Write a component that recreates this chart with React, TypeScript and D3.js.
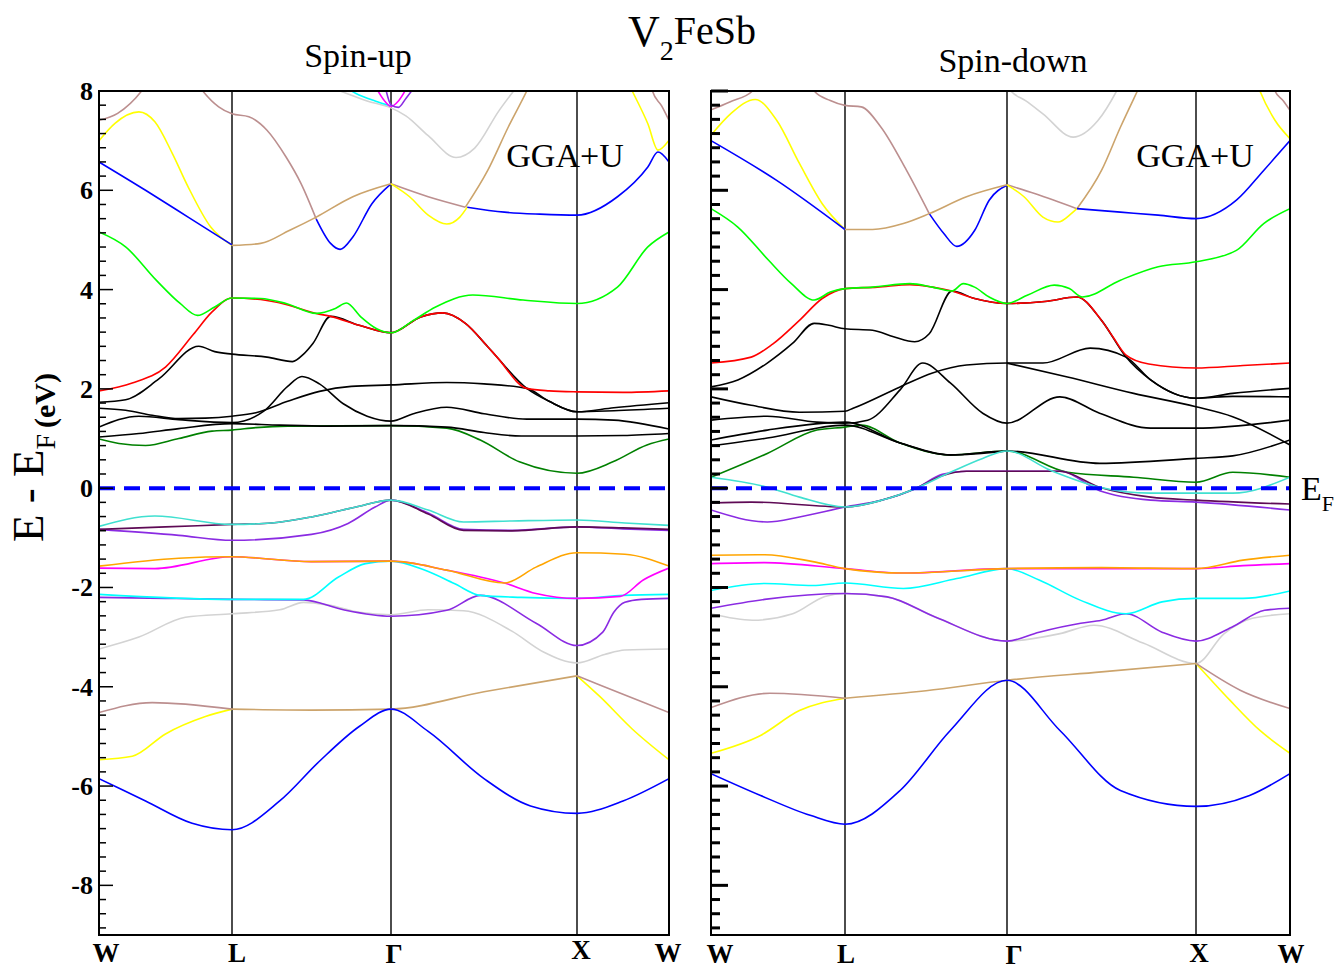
import React from "react";
import * as d3 from "d3";

// k-path positions (segment units) and labels
const kTicks = [0, 1, 2, 3, 4];
const kLabels = ["W", "L", "Γ", "X", "W"];
const eMajor = [8, 6, 4, 2, 0, -2, -4, -6, -8];

const colors: Record<string, string> = {
  brown: "#BC8F8F",
  yellow: "#FFFF00",
  blue: "#0000FF",
  lime: "#00FF00",
  red: "#FF0000",
  black: "#000000",
  green: "#008000",
  tan: "#CCA46C",
  gray: "#D3D3D3",
  turq: "#40E0D0",
  cyan: "#00FFFF",
  magenta: "#FF00FF",
  orange: "#FFA500",
  plum: "#5E0A55",
  violet: "#8A2BE2",
};

type Band = { s: string; p: number[][] };

// spin-up bands: [k, E]
const upBands: Band[] = [
  { s: "gray", p: [[1.6, 8.1], [1.68, 8.0], [1.85, 7.8], [2, 7.66], [2.08, 7.5], [2.2, 7.1], [2.35, 6.66], [2.45, 6.85], [2.58, 7.6], [2.68, 8.1]] },
  { s: "cyan", p: [[1.7, 8.1], [1.78, 7.95], [1.9, 7.8], [2, 7.7]] },
  { s: "magenta", p: [[1.9, 8.1], [1.96, 7.8], [2, 7.69], [2.04, 7.8], [2.09, 8.1]] },
  { s: "violet", p: [[1.97, 8.0], [2.0, 7.72], [2.04, 7.67], [2.08, 7.85], [2.13, 8.1]] },
  { s: "brown", p: [[0, 7.41], [0.14, 7.55], [0.32, 8.0], [0.42, 8.4]] },
  { s: "yellow", p: [[0, 7.0], [0.12, 7.35], [0.3, 7.58], [0.42, 7.38], [0.55, 6.75], [0.67, 6.07], [0.84, 5.26], [1, 4.89]] },
  { s: "blue", p: [[0, 6.57], [0.35, 6.0], [0.67, 5.46], [1, 4.9]] },
  { s: "brown", p: [[0.7, 8.3], [0.78, 8.0], [0.9, 7.68], [1, 7.54], [1.106, 7.48], [1.22, 7.21], [1.34, 6.67], [1.435, 6.13], [1.53, 5.42]] },
  { s: "blue", p: [[1.53, 5.42], [1.62, 4.93], [1.68, 4.81], [1.76, 5.06], [1.88, 5.73], [2, 6.13]] },
  { s: "tan", p: [[1, 4.89], [1.18, 4.93], [1.36, 5.19], [1.53, 5.46], [1.76, 5.87], [2, 6.13]] },
  { s: "brown", p: [[2, 6.13], [2.2, 5.87], [2.4, 5.66]] },
  { s: "tan", p: [[2.4, 5.66], [2.52, 6.4], [2.63, 7.27], [2.73, 8.0], [2.78, 8.4]] },
  { s: "yellow", p: [[2, 6.13], [2.1, 5.87], [2.2, 5.5], [2.3, 5.32], [2.37, 5.46], [2.41, 5.66]] },
  { s: "blue", p: [[2.41, 5.66], [2.61, 5.56], [2.8, 5.52], [3, 5.5], [3.44, 5.87], [3.77, 6.47], [3.88, 6.77], [4, 6.57]] },
  { s: "yellow", p: [[3.52, 8.3], [3.6, 8.0], [3.77, 7.34], [3.88, 6.81], [4, 7.01]] },
  { s: "brown", p: [[3.78, 8.3], [3.82, 8.0], [3.92, 7.7], [4, 7.41]] },
  { s: "green", p: [[0, 0.99], [0.15, 0.9], [0.35, 0.86], [0.6, 1.0], [0.85, 1.15], [1, 1.17], [1.15, 1.22], [1.35, 1.25], [2, 1.26], [2.3, 1.21], [2.48, 0.97], [2.69, 0.53], [3, 0.3], [3.39, 0.53], [3.76, 0.87], [4, 0.99]] },
  { s: "black", p: [[0, 1.73], [0.2, 1.78], [0.45, 2.2], [0.75, 2.86], [0.87, 2.75], [1, 2.7], [1.22, 2.64], [1.38, 2.55], [1.45, 2.7], [1.51, 2.92], [1.62, 3.46], [1.8, 3.28], [2, 3.13], [2.16, 3.45], [2.28, 3.53], [2.4, 3.32], [2.52, 2.85], [2.73, 2.01], [2.85, 1.75], [3, 1.54], [3.4, 1.56], [4, 1.61]] },
  { s: "black", p: [[0, 1.61], [0.2, 1.57], [0.4, 1.47], [0.6, 1.4], [0.8, 1.41], [1, 1.45], [1.15, 1.52], [1.35, 1.75], [1.55, 1.95], [1.75, 2.05], [2, 2.08], [2.3, 2.13], [2.5, 2.1], [2.73, 2.01], [2.85, 1.75], [3, 1.54], [3.4, 1.62], [4, 1.72]] },
  { s: "black", p: [[0, 1.23], [0.3, 1.45], [0.6, 1.38], [1, 1.32], [1.2, 1.55], [1.35, 2.05], [1.44, 2.25], [1.55, 2.1], [1.7, 1.7], [1.85, 1.45], [2, 1.35], [2.12, 1.5], [2.3, 1.63], [2.5, 1.5], [2.73, 1.39], [3, 1.39], [3.4, 1.37], [4, 1.19]] },
  { s: "black", p: [[0, 1.03], [0.3, 1.1], [0.6, 1.2], [1, 1.3], [1.3, 1.27], [1.6, 1.25], [2, 1.26], [2.3, 1.23], [2.5, 1.12], [2.7, 1.05], [3, 1.05], [3.5, 1.06], [4, 1.1]] },
  { s: "red", p: [[0, 1.96], [0.25, 2.12], [0.5, 2.44], [0.71, 3.1], [0.85, 3.55], [1, 3.83], [1.18, 3.8], [1.34, 3.7], [1.53, 3.52], [1.62, 3.46], [1.8, 3.28], [2, 3.13], [2.16, 3.45], [2.28, 3.53], [2.4, 3.32], [2.52, 2.85], [2.57, 2.64], [2.73, 2.01], [2.85, 1.96], [3, 1.94], [3.5, 1.93], [4, 1.96]] },
  { s: "lime", p: [[0, 5.16], [0.2, 4.86], [0.43, 4.19], [0.61, 3.72], [0.74, 3.48], [0.87, 3.65], [1, 3.83], [1.18, 3.82], [1.34, 3.72], [1.53, 3.52], [1.65, 3.62], [1.72, 3.73], [1.81, 3.45], [1.91, 3.21], [2, 3.13], [2.12, 3.38], [2.24, 3.65], [2.44, 3.89], [2.71, 3.79], [3, 3.72], [3.44, 4.05], [3.77, 4.86], [4, 5.16]] },
  { s: "violet", p: [[0, -0.83], [0.6, -0.95], [1, -1.05], [1.5, -0.93], [1.73, -0.71], [1.9, -0.38], [2, -0.24], [2.2, -0.5], [2.39, -0.83], [2.65, -0.85], [3, -0.78], [3.5, -0.82], [4, -0.85]] },
  { s: "plum", p: [[0, -0.83], [0.5, -0.78], [1, -0.73], [1.25, -0.7], [1.5, -0.58], [1.78, -0.38], [2, -0.24], [2.2, -0.52], [2.39, -0.85], [2.65, -0.86], [3, -0.78], [3.5, -0.8], [4, -0.83]] },
  { s: "turq", p: [[0, -0.77], [0.42, -0.56], [1, -0.73], [1.25, -0.7], [1.5, -0.58], [1.78, -0.38], [2, -0.24], [2.2, -0.44], [2.39, -0.68], [2.65, -0.66], [3, -0.64], [3.52, -0.7], [4, -0.75]] },
  { s: "gray", p: [[0, -3.24], [0.3, -3.0], [0.65, -2.6], [1, -2.53], [1.3, -2.45], [1.45, -2.3], [1.6, -2.35], [1.8, -2.5], [2, -2.55], [2.2, -2.45], [2.39, -2.47], [2.65, -2.88], [2.82, -3.3], [3, -3.52], [3.3, -3.35], [3.52, -3.26], [4, -3.24]] },
  { s: "violet", p: [[0, -2.2], [0.5, -2.22], [1, -2.24], [1.45, -2.25], [1.7, -2.45], [2, -2.58], [2.3, -2.46], [2.48, -2.16], [2.78, -2.72], [3, -3.17], [3.28, -2.9], [3.4, -2.5], [3.52, -2.3], [3.7, -2.24], [4, -2.22]] },
  { s: "cyan", p: [[0, -2.14], [1, -2.24], [1.45, -2.24], [1.67, -1.79], [1.84, -1.52], [2, -1.47], [2.18, -1.65], [2.34, -1.92], [2.48, -2.16], [2.7, -2.2], [3, -2.22], [3.5, -2.16], [4, -2.14]] },
  { s: "magenta", p: [[0, -1.61], [0.42, -1.62], [1, -1.38], [1.5, -1.48], [2, -1.47], [2.3, -1.65], [2.61, -1.91], [2.78, -2.12], [3, -2.22], [3.47, -2.18], [3.72, -1.85], [4, -1.61]] },
  { s: "orange", p: [[0, -1.57], [0.6, -1.41], [1, -1.38], [1.5, -1.48], [2, -1.47], [2.3, -1.65], [2.61, -1.91], [2.78, -1.59], [3, -1.3], [3.52, -1.33], [4, -1.57]] },
  { s: "yellow", p: [[0, -5.47], [0.25, -5.4], [0.5, -4.95], [0.8, -4.6], [1, -4.45]] },
  { s: "brown", p: [[0, -4.52], [0.4, -4.32], [1, -4.45]] },
  { s: "tan", p: [[1, -4.45], [1.5, -4.47], [2, -4.45], [2.5, -4.1], [3, -3.78]] },
  { s: "yellow", p: [[3, -3.78], [3.25, -4.2], [3.6, -4.85], [4, -5.47]] },
  { s: "brown", p: [[3, -3.78], [3.5, -4.15], [4, -4.52]] },
  { s: "blue", p: [[0, -5.85], [0.35, -6.3], [0.7, -6.75], [1, -6.88], [1.3, -6.3], [1.55, -5.5], [1.8, -4.8], [2, -4.45], [2.2, -4.9], [2.5, -5.85], [2.75, -6.4], [3, -6.55], [3.5, -6.3], [4, -5.85]] },
];

// spin-down bands: [k, E]
const downBands: Band[] = [
  { s: "gray", p: [[1.96, 8.3], [2.02, 8.0], [2.1, 7.8], [2.19, 7.54], [2.35, 7.07], [2.48, 7.4], [2.58, 8.0], [2.62, 8.3]] },
  { s: "brown", p: [[0, 7.62], [0.14, 7.78], [0.31, 8.0], [0.4, 8.3]] },
  { s: "yellow", p: [[0, 7.11], [0.15, 7.55], [0.33, 7.83], [0.49, 7.41], [0.66, 6.54], [0.83, 5.73], [1, 5.21]] },
  { s: "blue", p: [[0, 7.0], [0.49, 6.2], [1, 5.21]] },
  { s: "brown", p: [[0.7, 8.3], [0.77, 8.0], [0.89, 7.81], [1, 7.71], [1.1, 7.68], [1.22, 7.28], [1.38, 6.4], [1.52, 5.53]] },
  { s: "blue", p: [[1.52, 5.53], [1.61, 5.13], [1.69, 4.87], [1.8, 5.19], [1.89, 5.8], [2, 6.1]] },
  { s: "tan", p: [[1, 5.21], [1.17, 5.21], [1.36, 5.33], [1.52, 5.53], [1.75, 5.87], [2, 6.11]] },
  { s: "brown", p: [[2, 6.11], [2.15, 5.93], [2.37, 5.63]] },
  { s: "tan", p: [[2.37, 5.63], [2.5, 6.4], [2.6, 7.27], [2.69, 8.0], [2.74, 8.4]] },
  { s: "yellow", p: [[2, 6.11], [2.09, 5.87], [2.19, 5.46], [2.27, 5.36], [2.34, 5.53], [2.37, 5.63]] },
  { s: "blue", p: [[2.37, 5.63], [2.6, 5.56], [2.8, 5.5], [3, 5.43], [3.43, 5.8], [3.72, 6.4], [4, 7.0]] },
  { s: "yellow", p: [[3.62, 8.3], [3.68, 8.0], [3.84, 7.41], [4, 7.04]] },
  { s: "brown", p: [[3.8, 8.3], [3.84, 8.0], [3.93, 7.8], [4, 7.61]] },
  { s: "green", p: [[0, 0.22], [0.42, 0.7], [0.79, 1.17], [1, 1.23], [1.1, 1.27], [1.34, 0.91], [1.65, 0.67], [2, 0.75], [2.32, 0.32], [2.67, 0.22], [3, 0.12], [3.39, 0.32], [4, 0.22]] },
  { s: "black", p: [[0, 2.04], [0.2, 2.18], [0.42, 2.52], [0.61, 2.92], [0.77, 3.32], [0.88, 3.28], [1, 3.21], [1.17, 3.18], [1.3, 3.05], [1.43, 2.95], [1.52, 3.11], [1.66, 3.97], [1.8, 3.82], [2, 3.72], [2.2, 3.76], [2.37, 3.85], [2.5, 3.38], [2.63, 2.64], [2.76, 2.18], [3, 1.81], [3.39, 1.85], [4, 1.84]] },
  { s: "black", p: [[0, 1.84], [0.3, 1.67], [0.66, 1.53], [1, 1.55], [1.05, 1.61], [1.34, 2.04], [1.54, 2.32], [1.75, 2.48], [2, 2.52], [2.19, 2.52], [2.44, 2.82], [2.63, 2.64], [2.76, 2.18], [3, 1.81], [3.39, 1.91], [4, 2.01]] },
  { s: "black", p: [[2, 2.52], [2.32, 2.24], [2.67, 1.91], [3, 1.64], [3.39, 1.44], [4, 0.87]] },
  { s: "black", p: [[0, 1.37], [0.42, 1.45], [0.79, 1.33], [1, 1.31], [1.14, 1.37], [1.34, 1.98], [1.48, 2.52], [1.65, 2.12], [1.85, 1.51], [2, 1.31], [2.28, 1.84], [2.49, 1.51], [2.76, 1.21], [3, 1.21], [4, 1.37]] },
  { s: "black", p: [[0, 0.97], [0.42, 1.17], [1, 1.33], [1.34, 0.91], [1.65, 0.67], [2, 0.75], [2.49, 0.5], [3, 0.6], [3.39, 0.65], [4, 0.97]] },
  { s: "black", p: [[0, 0.85], [0.42, 1.01], [1, 1.27], [1.34, 0.91], [1.65, 0.67], [2, 0.75]] },
  { s: "red", p: [[0, 2.52], [0.3, 2.64], [0.46, 2.9], [0.66, 3.38], [0.83, 3.82], [1, 4.02], [1.2, 4.05], [1.4, 4.1], [1.54, 4.05], [1.66, 3.97], [1.8, 3.82], [2, 3.72], [2.2, 3.76], [2.37, 3.85], [2.5, 3.38], [2.56, 3.05], [2.63, 2.68], [2.75, 2.5], [3, 2.42], [3.5, 2.47], [4, 2.52]] },
  { s: "lime", p: [[0, 5.63], [0.2, 5.26], [0.43, 4.59], [0.6, 4.12], [0.77, 3.79], [0.89, 3.95], [1, 4.02], [1.17, 4.05], [1.4, 4.12], [1.54, 4.05], [1.66, 3.97], [1.73, 4.12], [1.8, 4.05], [1.89, 3.85], [2, 3.72], [2.11, 3.89], [2.25, 4.09], [2.33, 4.02], [2.4, 3.85], [2.6, 4.19], [2.8, 4.46], [3, 4.56], [3.43, 4.79], [3.72, 5.33], [4, 5.63]] },
  { s: "violet", p: [[0, -0.44], [0.42, -0.68], [0.66, -0.58], [1, -0.38], [1.23, -0.24], [1.44, 0.0], [1.6, 0.28], [1.75, 0.34], [2, 0.34], [2.28, 0.34], [2.49, -0.05], [2.76, -0.24], [3, -0.28], [4, -0.44]] },
  { s: "plum", p: [[0, -0.3], [0.3, -0.28], [1, -0.38], [1.23, -0.24], [1.44, 0.0], [1.6, 0.25], [1.75, 0.34], [2, 0.34], [2.28, 0.34], [2.49, 0.02], [2.76, -0.18], [3, -0.24], [4, -0.32]] },
  { s: "turq", p: [[0, 0.22], [0.42, 0.02], [0.66, -0.18], [1, -0.38], [1.23, -0.24], [1.44, 0.0], [1.65, 0.32], [1.85, 0.6], [2, 0.75], [2.23, 0.36], [2.49, 0.02], [2.76, -0.1], [3, -0.1], [3.39, -0.1], [4, 0.22]] },
  { s: "gray", p: [[0, -2.53], [0.31, -2.66], [0.61, -2.53], [0.85, -2.18], [1, -2.12], [1.26, -2.19], [1.56, -2.6], [2, -3.08], [2.28, -2.93], [2.46, -2.76], [2.72, -3.12], [3, -3.53], [3.3, -2.93], [3.6, -2.62], [4, -2.53]] },
  { s: "violet", p: [[0, -2.42], [0.4, -2.24], [1, -2.12], [1.26, -2.19], [1.56, -2.6], [2, -3.08], [2.17, -2.9], [2.39, -2.72], [2.5, -2.66], [2.63, -2.53], [2.82, -2.9], [3, -3.08], [3.38, -2.8], [3.73, -2.46], [4, -2.42]] },
  { s: "cyan", p: [[0, -2.06], [0.4, -1.92], [0.76, -1.96], [1, -1.91], [1.36, -2.02], [1.69, -1.82], [2, -1.62], [2.17, -1.85], [2.39, -2.26], [2.63, -2.53], [2.82, -2.29], [3, -2.22], [3.5, -2.22], [4, -2.07]] },
  { s: "magenta", p: [[0, -1.52], [0.4, -1.5], [1, -1.62], [1.36, -1.71], [2, -1.62], [3, -1.62], [3.5, -1.56], [4, -1.52]] },
  { s: "orange", p: [[0, -1.35], [0.4, -1.34], [0.76, -1.48], [1, -1.62], [1.36, -1.71], [2, -1.62], [2.5, -1.6], [3, -1.62], [3.5, -1.45], [4, -1.35]] },
  { s: "yellow", p: [[0, -5.34], [0.37, -4.98], [0.66, -4.48], [1, -4.23]] },
  { s: "brown", p: [[0, -4.42], [0.44, -4.13], [1, -4.23]] },
  { s: "tan", p: [[1, -4.23], [1.5, -4.08], [2, -3.87], [2.5, -3.7], [3, -3.53]] },
  { s: "yellow", p: [[3, -3.53], [3.36, -4.27], [3.68, -4.88], [4, -5.34]] },
  { s: "brown", p: [[3, -3.53], [3.47, -4.07], [4, -4.44]] },
  { s: "blue", p: [[0, -5.75], [0.37, -6.19], [0.74, -6.59], [1, -6.77], [1.34, -6.09], [1.65, -4.88], [2, -3.87], [2.28, -4.88], [2.6, -6.09], [3, -6.41], [3.57, -6.19], [4, -5.75]] },
];

const FONT = "'Liberation Serif', 'Times New Roman', serif";
const Y0 = 935;
const Y1 = 91;

type PanelProps = {
  id: string;
  bands: Band[];
  xs: number[];
  heavyTicks: boolean;
  showLabels: boolean;
  labelX: number[];
  labelY: number[];
};

const Panel = ({ id, bands, xs, heavyTicks, showLabels, labelX, labelY }: PanelProps) => {
  const x = d3.scaleLinear().domain(kTicks).range(xs);
  const y = d3.scaleLinear().domain([-9, 8]).range([Y0, Y1]);
  const line = d3
    .line<number[]>()
    .x((d) => x(d[0]))
    .y((d) => y(d[1]))
    .curve(d3.curveMonotoneX);

  // minor ticks every 2/7 eV, major every 2 eV
  const ticks = d3
    .range(0, 60)
    .map((i) => ({ v: 8 - (i * 2) / 7, major: i % 7 === 0 }))
    .filter((t) => t.v >= -9.01);
  const left = xs[0];
  const right = xs[xs.length - 1];

  return (
    <g>
      <defs>
        <clipPath id={id}>
          <rect x={left} y={Y1} width={right - left} height={Y0 - Y1} />
        </clipPath>
      </defs>
      {kTicks.slice(1, -1).map((k) => (
        <line key={k} x1={x(k)} x2={x(k)} y1={Y1} y2={Y0} stroke="#000" strokeWidth={1.4} />
      ))}
      <g clipPath={`url(#${id})`}>
        {bands.map((b, i) => (
          <path key={i} d={line(b.p) || ""} fill="none" stroke={colors[b.s]} strokeWidth={1.6} />
        ))}
      </g>
      <line x1={left} x2={right} y1={y(0)} y2={y(0)} stroke="#0000FF" strokeWidth={4} strokeDasharray="16 9" />
      {ticks.map((t, i) => (
        <line
          key={i}
          x1={left}
          x2={left + (t.major ? (heavyTicks ? 17 : 14) : heavyTicks ? 9 : 7)}
          y1={y(t.v)}
          y2={y(t.v)}
          stroke="#000"
          strokeWidth={heavyTicks ? 3 : 1.5}
        />
      ))}
      <rect x={left} y={Y1} width={right - left} height={Y0 - Y1} fill="none" stroke="#000" strokeWidth={2} />
      {showLabels &&
        eMajor.map((v) => (
          <text key={v} x={93} y={y(v) + 9} textAnchor="end" fontFamily={FONT} fontWeight="bold" fontSize={26}>
            {v}
          </text>
        ))}
      {kLabels.map((l, i) => (
        <text key={i} x={labelX[i]} y={labelY[i]} textAnchor="middle" fontFamily={FONT} fontWeight="bold" fontSize={27}>
          {l}
        </text>
      ))}
    </g>
  );
};

export default function App() {
  return (
    <svg
      width={1336}
      height={969}
      viewBox="0 0 1336 969"
      style={{ position: "absolute", left: 0, top: 0, background: "#fff" }}
    >
      <rect width={1336} height={969} fill="#fff" />
      <Panel
        id="clipUp"
        bands={upBands}
        xs={[99, 232, 391, 577, 669]}
        heavyTicks={false}
        showLabels={true}
        labelX={[106, 237, 394, 581, 668]}
        labelY={[962, 962, 963, 959, 962]}
      />
      <Panel
        id="clipDown"
        bands={downBands}
        xs={[711, 845, 1007, 1196, 1290]}
        heavyTicks={true}
        showLabels={false}
        labelX={[720, 846, 1014, 1199, 1291]}
        labelY={[963, 963, 964, 962, 963]}
      />
      <text x={628} y={46} fontFamily={FONT} fontSize={44}>
        V<tspan fontSize={28} dy={14}>2</tspan>
        <tspan fontSize={40} dy={-16}>FeSb</tspan>
      </text>
      <text x={358} y={67} textAnchor="middle" fontFamily={FONT} fontSize={34}>Spin-up</text>
      <text x={1013} y={72} textAnchor="middle" fontFamily={FONT} fontSize={34}>Spin-down</text>
      <text x={565} y={167} textAnchor="middle" fontFamily={FONT} fontSize={34}>GGA+U</text>
      <text x={1195} y={167} textAnchor="middle" fontFamily={FONT} fontSize={34}>GGA+U</text>
      <text transform="translate(43,542) rotate(-90)" fontFamily={FONT} fontSize={45}>
        E - E<tspan fontSize={28} dy={12}>F</tspan>
        <tspan fontSize={30} fontWeight="bold" dx={6}>(eV)</tspan>
      </text>
      <text x={1301} y={500} fontFamily={FONT} fontSize={34}>
        E<tspan fontSize={22} dy={11}>F</tspan>
      </text>
    </svg>
  );
}
